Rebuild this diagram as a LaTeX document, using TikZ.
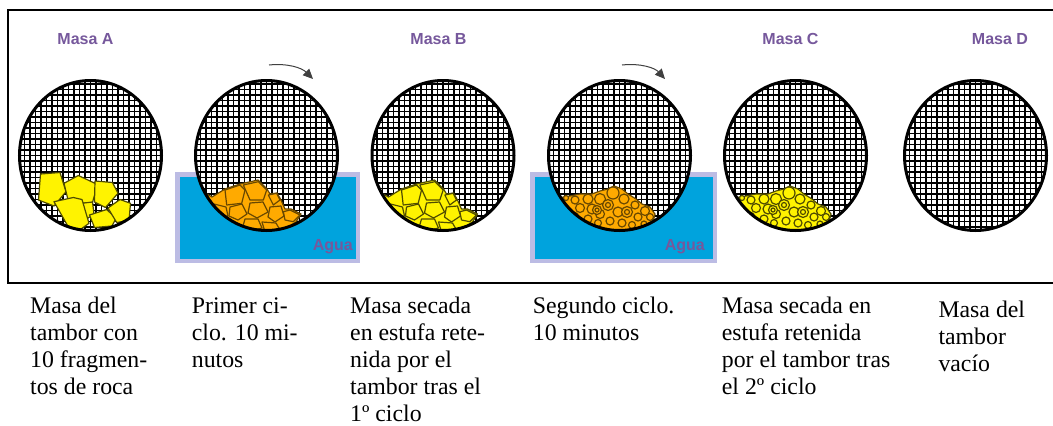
\documentclass[tikz,border=0pt]{standalone}
\usepackage{fontspec}
\setmainfont{Liberation Serif}
\newfontfamily\labelsans{Liberation Sans}
\usetikzlibrary{arrows.meta,shapes.geometric}

\definecolor{masslabel}{RGB}{118,88,156}
\definecolor{waterblue}{RGB}{0,163,221}
\definecolor{tankedge}{RGB}{188,188,228}
\definecolor{rockyellow}{RGB}{255,243,0}
\definecolor{rockyedge}{RGB}{80,76,0}
\definecolor{rockorange}{RGB}{255,170,0}
\definecolor{rockoedge}{RGB}{105,72,0}

\tikzset{
  masslbl/.style={font=\labelsans\bfseries\fontsize{16}{18}\selectfont, text=masslabel, inner sep=0},
  agualbl/.style={font=\labelsans\bfseries\fontsize{16}{18}\selectfont, text=masslabel, inner sep=0, anchor=base east},
  caption/.style={font=\fontsize{23.8}{27.1}\selectfont, align=left, anchor=north west, inner sep=0},
  tank/.style={rectangle, fill=waterblue, draw=tankedge, line width=4.5pt, inner sep=0},
  rim/.style={ellipse, draw=black, line width=3pt, minimum width=142pt, minimum height=150pt, inner sep=0},
  meshline/.style={draw=black, line width=1.15pt},
  yrock/.style={fill=rockyellow, draw=rockyedge, line width=1.2pt, line join=round},
  orock/.style={fill=rockorange, draw=rockoedge, line width=1.2pt, line join=round},
  turn/.style={draw=black!75, line width=1pt, -{Triangle[length=10pt,width=9pt]}},
}

% wire mesh inside a drum centred at (#1,#2)
\newcommand\meshdrum[2]{%
  \fill[white] (#1,#2) ellipse [x radius=71pt, y radius=75pt];
  \begin{scope}
    \clip (#1,#2) ellipse [x radius=71pt, y radius=75pt];
    \foreach \k in {-14,...,14}{
      \draw[meshline] ({#1+\k*5.5},{#2-80}) -- ({#1+\k*5.5},{#2+80});
      \draw[meshline] ({#1-80},{#2+\k*5.5}) -- ({#1+80},{#2+\k*5.5});
    }
  \end{scope}}

% broken chunks after the first cycle (drawn around x = 266)
\newcommand\chunkpile[1]{%
  \path[#1] (200,190) -- (212,197) -- (225,189) -- (240,184) -- (258,180) -- (267,189)
     -- (270,194) -- (277,193) -- (281,200) -- (285,209) -- (291,209) -- (301,214)
     -- (296,222) -- (285,229) -- (270,238) -- (200,238) -- cycle;
  \path[#1] (225,190) -- (240,185) -- (245,190) -- (241.7,203.3) -- (226.7,205) -- cycle;
  \path[#1] (243.3,185) -- (258.3,181.7) -- (266.7,190) -- (263.3,200) -- (250,200) -- cycle;
  \path[#1] (268.3,195) -- (276.7,193.3) -- (280,200) -- (273.3,205) -- cycle;
  \path[#1] (283.3,211.7) -- (290,210) -- (300,215) -- (293.3,221.7) -- (285,220) -- cycle;
  \path[#1] (230,207) -- (242,204) -- (247,214) -- (238,220) -- (229,216) -- cycle;
  \path[#1] (250,203) -- (263,202) -- (268,212) -- (257,218) -- (248,213) -- cycle;
  \path[#1] (270,207) -- (281,206) -- (284,216) -- (275,222) -- (268,217) -- cycle;
  \path[#1] (245,219) -- (258,219) -- (262,228) -- (250,231) -- (243,226) -- cycle;
  \path[#1] (262,222) -- (276,223) -- (280,230) -- (265,232) -- cycle;
  \path[#1] (214,204) -- (226,207) -- (228,216) -- (219,218) -- cycle;
}

% rounded pebbles after the second cycle (drawn around x = 620)
\newcommand\pebblepile[1]{%
  \path[#1] (558,198) -- (570,196) -- (580,194) -- (592,194) -- (600,191) -- (608,189)
     -- (614,186) -- (622,189) -- (628,194) -- (636,199) -- (642,204) -- (650,207)
     -- (655,214) -- (652,226) -- (640,236) -- (558,236) -- cycle;
  \foreach \px/\py/\pr in {566/198/2.5, 575/200/4, 588/199/5, 600/199/5.5, 613/193/6,
      624/199/5, 635/205/4, 645/211/4.5, 650/217/3.5, 580/208/4.5, 592/209/5,
      600/214/4.5, 618/212/5, 638/217/4, 588/219/4, 598/223/3.5, 610/221/4,
      622/223/4, 632/225/3.5, 575/216/3.5, 644/224/3}{
    \path[#1] (\px,\py) circle [radius=\pr pt];
  }
  \path[#1] (608,205) circle [radius=5.5pt];
  \path[#1, fill=none] (608,205) circle [radius=2.5pt];
  \path[#1] (627,212) circle [radius=5.5pt];
  \path[#1, fill=none] (627,212) circle [radius=2.5pt];
  \path[#1] (597,210) circle [radius=4.5pt];
  \path[#1, fill=none] (597,210) circle [radius=2pt];
}

\begin{document}
\begin{tikzpicture}[x=1pt,y=-1pt]
  \useasboundingbox (0,0) rectangle (1053,426);
  \fill[white] (0,0) rectangle (1053,426);

  % outer frame (open to the right)
  \draw[line width=2pt] (1060,10) -- (8.3,10) -- (8.3,283) -- (1060,283);

  % stage titles
  \node[masslbl] (mA) at (85.5,39) {Masa A};
  \node[masslbl] (mB) at (438.5,39) {Masa B};
  \node[masslbl] (mC) at (790.5,39) {Masa C};
  \node[masslbl] (mD) at (1000,39) {Masa D};

  % water tanks
  \node[tank, minimum width=180.5pt, minimum height=86.5pt] (tank1) at (267.5,217.5) {};
  \node[tank, minimum width=182.5pt, minimum height=86.5pt] (tank2) at (623.5,217.5) {};

  % drums: mesh
  \meshdrum{90.5}{155.5}
  \meshdrum{266.5}{155.5}
  \meshdrum{443}{155.5}
  \meshdrum{619.5}{155.5}
  \meshdrum{795.5}{155.5}
  \meshdrum{975.5}{155.5}

  % drum 1: ten whole fragments
  \begin{scope}
    \clip (90.5,155.5) ellipse [x radius=71pt, y radius=75pt];
    \path[yrock] (40.5,174) -- (60,172.5) -- (66,191.7) -- (54,206) -- (38.5,200) -- cycle;
    \path[yrock] (64,183.3) -- (78.3,175.5) -- (97.5,184.5) -- (92.5,202.5) -- (69,204) -- cycle;
    \path[yrock] (95,181) -- (112.5,182.5) -- (118,193.3) -- (105.5,207.5) -- (94.5,202) -- cycle;
    \path[yrock] (81.7,203.3) -- (92.5,202) -- (94,214) -- (86.7,219) -- cycle;
    \path[yrock] (54,201.7) -- (73.3,197.5) -- (82,199.5) -- (89,223.3) -- (78.3,231) -- (67.5,225.5) -- cycle;
    \path[yrock] (89.5,215) -- (106.7,209.5) -- (116,218.3) -- (112,226) -- (94.5,227.5) -- cycle;
    \path[yrock] (108,208) -- (120,199.5) -- (130.5,203.3) -- (129,220.5) -- (116.7,222.5) -- cycle;
  \end{scope}

  % drum 2 and 3: chunks after the first cycle
  \begin{scope}
    \clip (266.5,155.5) ellipse [x radius=71pt, y radius=75pt];
    \chunkpile{orock}
  \end{scope}
  \begin{scope}
    \clip (443,155.5) ellipse [x radius=71pt, y radius=75pt];
    \begin{scope}[xshift=176.5pt]
      \chunkpile{yrock}
    \end{scope}
  \end{scope}

  % drum 4 and 5: pebbles after the second cycle
  \begin{scope}
    \clip (619.5,155.5) ellipse [x radius=71pt, y radius=75pt];
    \pebblepile{orock}
  \end{scope}
  \begin{scope}
    \clip (795.5,155.5) ellipse [x radius=71pt, y radius=75pt];
    \begin{scope}[xshift=176pt]
      \pebblepile{yrock}
    \end{scope}
  \end{scope}

  % drum rims
  \node[rim] (d1) at (90.5,155.5) {};
  \node[rim] (d2) at (266.5,155.5) {};
  \node[rim] (d3) at (443,155.5) {};
  \node[rim] (d4) at (619.5,155.5) {};
  \node[rim] (d5) at (795.5,155.5) {};
  \node[rim] (d6) at (975.5,155.5) {};

  % water labels
  \node[agualbl] (w1) at (353,250) {Agua};
  \node[agualbl] (w2) at (705,250.5) {Agua};

  % rotation arrows
  \coordinate (r1s) at (269,65);
  \coordinate (r1e) at (313,79);
  \draw[turn] (r1s) .. controls (288,63) and (302,68) .. (r1e);
  \coordinate (r2s) at (622,65);
  \coordinate (r2e) at (665,79);
  \draw[turn] (r2s) .. controls (641,63) and (655,68) .. (r2e);

  % captions
  \node[caption] (c1) at (30,294) {\strut Masa del\\tambor con\\10 fragmen-\\tos de roca};
  \node[caption] (c2) at (191.7,294) {\strut Primer ci-\\clo. 10 mi-\\nutos};
  \node[caption] (c3) at (350,294) {\strut Masa secada\\en estufa rete-\\nida por el\\tambor tras el\\1º ciclo};
  \node[caption] (c4) at (532.7,294) {\strut Segundo ciclo.\\10 minutos};
  \node[caption] (c5) at (721.7,294) {\strut Masa secada en\\estufa retenida\\por el tambor tras\\el 2º ciclo};
  \node[caption] (c6) at (938.3,298) {\strut Masa del\\tambor\\vacío};
\end{tikzpicture}
\end{document}
